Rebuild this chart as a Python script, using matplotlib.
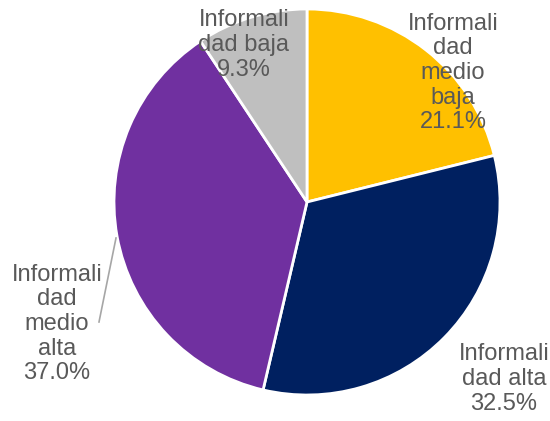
import matplotlib.pyplot as plt

# Datos
etiquetas = ['Informali\ndad\nmedio\nbaja', 'Informali\ndad alta', 'Informali\ndad\nmedio\nalta', 'Informali\ndad baja']
valores = [21.1, 32.5, 37.0, 9.3]
colores = ['#FFC000', '#002060', '#7030A0', '#BFBFBF']

# posiciones de las etiquetas (pixeles, origen arriba-izquierda)
pos_etiquetas = [(453, 73), (504, 379), (57, 324), (244, 45)]

plt.rcParams['font.family'] = ['Liberation Sans', 'DejaVu Sans']

W, H = 550, 421
fig = plt.figure(figsize=(W / 100, H / 100), dpi=100)
ax = fig.add_axes([0, 0, 1, 1])

cx, cy, r = 307, H - 202, 193
ax.pie(valores, colors=colores, startangle=90, counterclock=False,
       center=(cx, cy), radius=r, frame=True,
       wedgeprops=dict(edgecolor='white', linewidth=2))
ax.set_xlim(0, W)
ax.set_ylim(0, H)
ax.set_aspect('equal')
ax.axis('off')

for lab, v, (x, y) in zip(etiquetas, valores, pos_etiquetas):
    ax.text(x, H - y, f'{lab}\n{v:.1f}%', ha='center', va='center',
            fontsize=17, color='#595959', linespacing=1.15)

# linea guia de "medio alta"
ax.plot([99, 116], [H - 322, H - 238], color='#A6A6A6', linewidth=1.2)

fig.savefig('out.png', dpi=100)
